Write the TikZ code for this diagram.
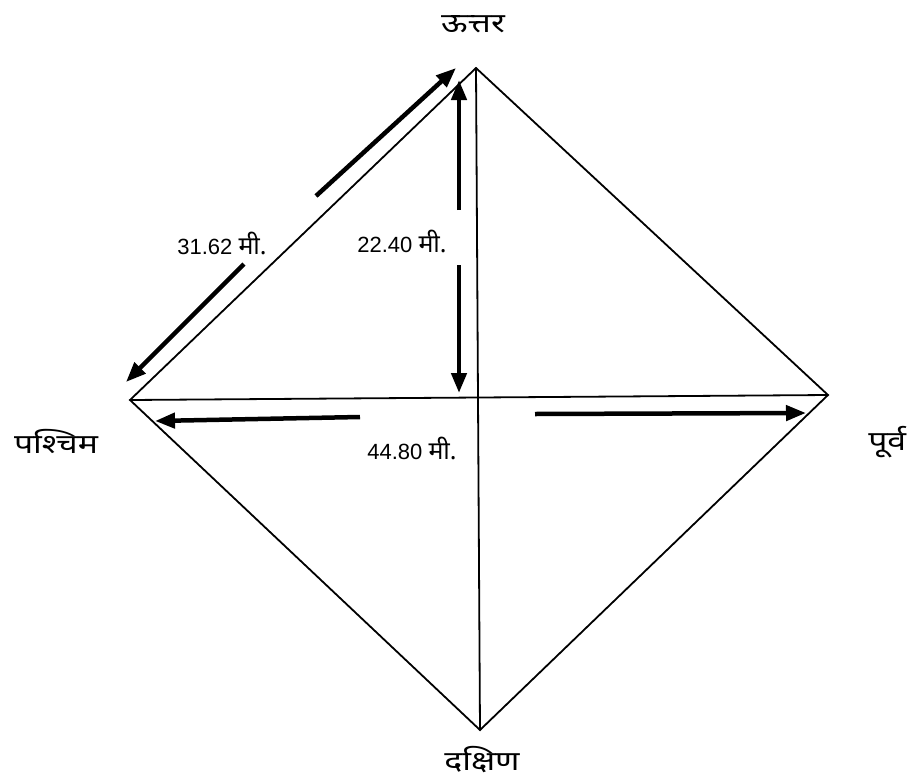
\documentclass[tikz,border=0pt]{standalone}
\usepackage{fontspec}
\setmainfont{Liberation Sans}
\newfontfamily\deva[Script=Devanagari]{Noto Sans}
\usetikzlibrary{arrows.meta}
\begin{document}
\begin{tikzpicture}[x=1pt,y=-1pt,
  edge/.style={line width=1.8pt},
  dim/.style={line width=4.5pt,-{Triangle[length=20pt,width=15pt]}},
  dir/.style={font=\deva\fontsize{27}{30}\selectfont,inner sep=0pt,xscale=1.25},
  meas/.style={font=\fontsize{22}{26}\selectfont,inner sep=1pt}]
\useasboundingbox (0,0) rectangle (908,782);
\coordinate (N) at (476,68);
\coordinate (W) at (130,400);
\coordinate (E) at (828,395);
\coordinate (S) at (480,730);
\draw[edge] (N) -- (W) -- (S) -- (E) -- cycle;
\draw[edge] (N) -- (S);
\draw[edge] (W) -- (E);
% direction labels
\node[dir] (ut) at (473,24) {ऊत्तर};
\node[dir] (pa) at (56,441) {पश्चिम};
\node[dir,anchor=west] (pu) at (868,442) {पूर्व};
\node[dir] (da) at (482,760) {दक्षिण};
% measurement labels
\node[meas] (l1) at (222,243) {31.62 {\deva\fontsize{25}{28}\selectfont मी.}};
\node[meas] (l2) at (402,241) {22.40 {\deva\fontsize{25}{28}\selectfont मी.}};
\node[meas] (l3) at (412,448) {44.80 {\deva\fontsize{25}{28}\selectfont मी.}};
% arrows
\coordinate (a1s) at (316,196);
\coordinate (a1e) at (456,68);
\coordinate (a2s) at (244,264);
\coordinate (a2e) at (126,382);
\coordinate (a3s) at (459,210);
\coordinate (a3e) at (459,80);
\coordinate (a4s) at (459,265);
\coordinate (a4e) at (459,393);
\coordinate (a5s) at (360,417);
\coordinate (a5e) at (155,421);
\coordinate (a6s) at (535,414);
\coordinate (a6e) at (806,413);
\draw[dim] (a1s) -- (a1e);
\draw[dim] (a2s) -- (a2e);
\draw[dim] (a3s) -- (a3e);
\draw[dim] (a4s) -- (a4e);
\draw[dim] (a5s) -- (a5e);
\draw[dim] (a6s) -- (a6e);
\end{tikzpicture}
\end{document}
